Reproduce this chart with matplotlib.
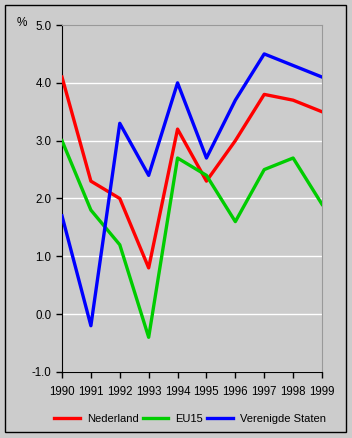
import matplotlib
matplotlib.use("Agg")
import matplotlib.pyplot as plt
from matplotlib.patches import Rectangle

plt.rcParams["font.family"] = ["Liberation Sans", "DejaVu Sans"]

years = [1990, 1991, 1992, 1993, 1994, 1995, 1996, 1997, 1998, 1999]
nederland = [4.1, 2.3, 2.0, 0.8, 3.2, 2.3, 3.0, 3.8, 3.7, 3.5]
eu15 = [3.0, 1.8, 1.2, -0.4, 2.7, 2.4, 1.6, 2.5, 2.7, 1.9]
verenigde_staten = [1.7, -0.2, 3.3, 2.4, 4.0, 2.7, 3.7, 4.5, 4.3, 4.1]
y_ticks = [-1.0, 0.0, 1.0, 2.0, 3.0, 4.0, 5.0]

BG = "#cccccc"
W, H = 352, 438

fig = plt.figure(figsize=(W / 100, H / 100), dpi=100, facecolor=BG)
ax = fig.add_axes([62 / W, 1 - 372 / H, 260 / W, 347 / H], facecolor=BG)

# outer frame
fig.patches.append(Rectangle((5 / W, 1 - 432 / H), 341 / W, 427 / H,
                             transform=fig.transFigure, fill=False,
                             edgecolor="black", lw=1))

for y in y_ticks[:-1]:
    ax.axhline(y, color="white", lw=1, zorder=1)

lw = 2.4
ax.plot(years, nederland, color="#ff0000", lw=lw, label="Nederland", zorder=3)
ax.plot(years, eu15, color="#00cc00", lw=lw, label="EU15", zorder=3)
ax.plot(years, verenigde_staten, color="#0000ff", lw=lw, label="Verenigde Staten", zorder=3)

ax.set_xlim(1990, 1999)
ax.set_ylim(-1.0, 5.0)
ax.set_xticks(years)
ax.set_xticklabels([str(y) for y in years])
ax.set_yticks(y_ticks)
ax.set_yticklabels([f"{y:.1f}" for y in y_ticks])
ax.tick_params(direction="out", length=4, width=1, labelsize=8.3, color="black")
ax.tick_params(axis="x", pad=6)

ax.spines["left"].set_color("black")
ax.spines["bottom"].set_color("black")
ax.spines["top"].set_color("#999999")
ax.spines["right"].set_color("#999999")

fig.text(22 / W, 1 - 23 / H, "%", fontsize=8.5, ha="center", va="center")

fig.legend(loc="center", bbox_to_anchor=(190 / W, 1 - 419 / H), ncol=3,
           frameon=False, fontsize=8, handlelength=2.3, handletextpad=0.6,
           columnspacing=0.4)

fig.savefig("out.png", dpi=100, facecolor=BG)
